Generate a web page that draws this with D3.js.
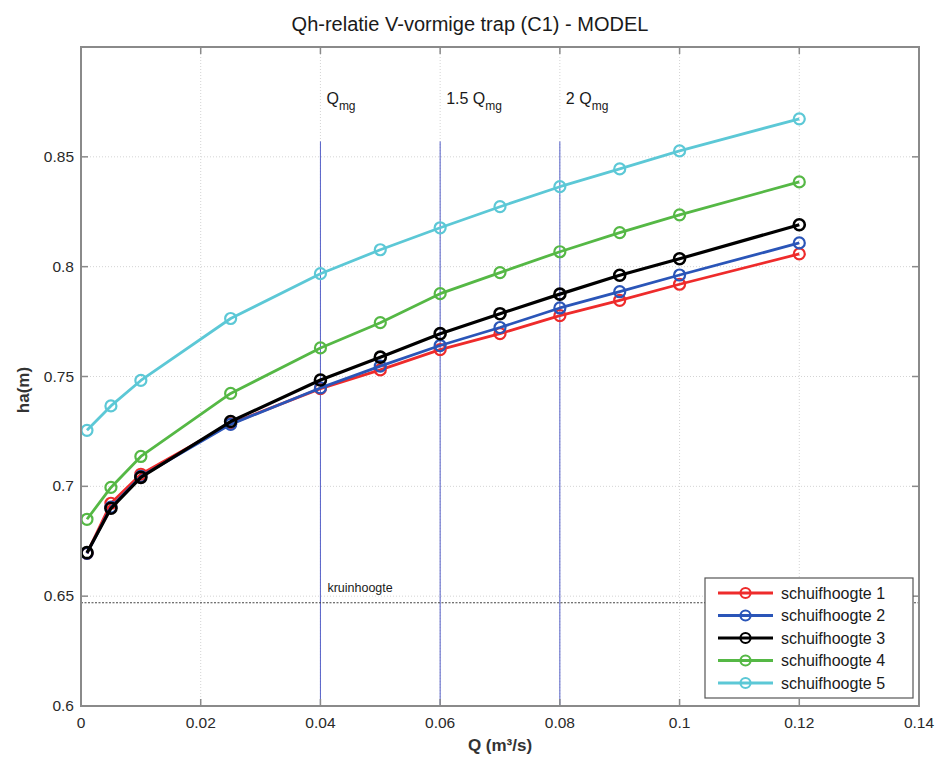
<!DOCTYPE html>
<html>
<head>
<meta charset="utf-8">
<script src="https://cdn.jsdelivr.net/npm/d3@7"></script>
<style>
  body { margin: 0; background: #fff; }
  svg { display: block; font-family: "Liberation Sans", Arial, sans-serif; }
</style>
</head>
<body>
<svg id="chart" width="941" height="762"></svg>
<script>
// Discharge values (m³/s) at which the water level was measured
const qValues = [0.001, 0.005, 0.01, 0.025, 0.04, 0.05, 0.06, 0.07, 0.08, 0.09, 0.1, 0.12];

// Upstream water level ha (m) per gate setting
const schuif1 = [0.6695, 0.6923, 0.7055, 0.7285, 0.7445, 0.7530, 0.7622, 0.7695, 0.7777, 0.7847, 0.7920, 0.8058];
const schuif2 = [0.6695, 0.6905, 0.7045, 0.7282, 0.7448, 0.7547, 0.7641, 0.7723, 0.7812, 0.7886, 0.7962, 0.8108];
const schuif3 = [0.6698, 0.6900, 0.7041, 0.7295, 0.7484, 0.7588, 0.7695, 0.7786, 0.7875, 0.7961, 0.8036, 0.8191];
const schuif4 = [0.6850, 0.6995, 0.7136, 0.7423, 0.7630, 0.7745, 0.7877, 0.7973, 0.8068, 0.8155, 0.8236, 0.8386];
const schuif5 = [0.7255, 0.7366, 0.7482, 0.7764, 0.7968, 0.8077, 0.8177, 0.8273, 0.8364, 0.8445, 0.8527, 0.8673];

const seriesNames = ["schuifhoogte 1", "schuifhoogte 2", "schuifhoogte 3", "schuifhoogte 4", "schuifhoogte 5"];
const seriesValues = [schuif1, schuif2, schuif3, schuif4, schuif5];
const seriesColors = ["#ee2b2b", "#2a55b8", "#000000", "#55b845", "#5cc8d6"];

// Axis ticks
const xTicks = [0, 0.02, 0.04, 0.06, 0.08, 0.1, 0.12, 0.14];
const xTickLabels = ["0", "0.02", "0.04", "0.06", "0.08", "0.1", "0.12", "0.14"];
const yTicks = [0.6, 0.65, 0.7, 0.75, 0.8, 0.85];
const yTickLabels = ["0.6", "0.65", "0.7", "0.75", "0.8", "0.85"];

// Reference discharges and crest height
const refQ = [0.04, 0.06, 0.08];
const refPrefix = ["Q", "1.5 Q", "2 Q"];
const refTop = 0.857;
const kruinhoogte = 0.647;

const svg = d3.select("#chart");
const margin = { left: 81, right: 22, top: 47, bottom: 56 };
const W = 941, H = 762;

const x = d3.scaleLinear().domain([0, 0.14]).range([margin.left, W - margin.right]);
const y = d3.scaleLinear().domain([0.6, 0.9]).range([H - margin.bottom, margin.top]);

const x0 = x.range()[0], x1 = x.range()[1];
const y0 = y.range()[0], y1 = y.range()[1];

// Grid
const grid = svg.append("g");
grid.selectAll(".gx").data(xTicks.slice(1, -1)).join("line")
  .attr("x1", d => x(d)).attr("x2", d => x(d))
  .attr("y1", y0).attr("y2", y1)
  .attr("stroke", "#d4d4d4").attr("stroke-width", 1).attr("stroke-dasharray", "1,2");
grid.selectAll(".gy").data(yTicks.slice(1)).join("line")
  .attr("x1", x0).attr("x2", x1)
  .attr("y1", d => y(d)).attr("y2", d => y(d))
  .attr("stroke", "#d4d4d4").attr("stroke-width", 1).attr("stroke-dasharray", "1,2");

// Reference discharge lines
svg.append("g").selectAll("line").data(refQ).join("line")
  .attr("x1", d => x(d)).attr("x2", d => x(d))
  .attr("y1", y(0.6)).attr("y2", y(refTop))
  .attr("stroke", "#5560c8").attr("stroke-width", 1);

const refLabels = svg.append("g").selectAll("text").data(refQ).join("text")
  .attr("x", d => x(d) + 6).attr("y", 104)
  .attr("font-size", 16).attr("fill", "#1a1a1a");
refLabels.append("tspan").text((d, i) => refPrefix[i]);
refLabels.append("tspan").attr("dy", 6).attr("font-size", 12).text("mg");

// Crest height
svg.append("line")
  .attr("x1", x0).attr("x2", x1)
  .attr("y1", y(kruinhoogte)).attr("y2", y(kruinhoogte))
  .attr("stroke", "#444").attr("stroke-width", 1).attr("stroke-dasharray", "2,1.5");
svg.append("text").attr("x", x(0.04) + 7).attr("y", y(kruinhoogte) - 11)
  .attr("font-size", 12.5).attr("fill", "#1a1a1a").text("kruinhoogte");

// Series
const line = d3.line().x((d, i) => x(qValues[i])).y(d => y(d));
const seriesG = svg.append("g").selectAll("g").data(seriesValues).join("g");
seriesG.append("path")
  .attr("d", d => line(d))
  .attr("fill", "none")
  .attr("stroke", (d, i) => seriesColors[i])
  .attr("stroke-width", (d, i) => i === 2 ? 3.2 : 2.8)
  .attr("stroke-linejoin", "round");
seriesG.each(function(vals, i) {
  d3.select(this).selectAll("circle").data(vals).join("circle")
    .attr("cx", (d, j) => x(qValues[j])).attr("cy", d => y(d))
    .attr("r", 5.5).attr("fill", "none")
    .attr("stroke", seriesColors[i]).attr("stroke-width", i === 2 ? 2.6 : 2.2);
});

// Axes box and ticks
const axisColor = "#8a8a8a";
svg.append("rect").attr("x", x0).attr("y", y1).attr("width", x1 - x0).attr("height", y0 - y1)
  .attr("fill", "none").attr("stroke", axisColor).attr("stroke-width", 2);

const ticksG = svg.append("g").attr("stroke", axisColor).attr("stroke-width", 1.5);
xTicks.forEach(t => {
  ticksG.append("line").attr("x1", x(t)).attr("x2", x(t)).attr("y1", y0).attr("y2", y0 - 7);
  ticksG.append("line").attr("x1", x(t)).attr("x2", x(t)).attr("y1", y1).attr("y2", y1 + 7);
});
yTicks.forEach(t => {
  ticksG.append("line").attr("x1", x0).attr("x2", x0 + 7).attr("y1", y(t)).attr("y2", y(t));
  ticksG.append("line").attr("x1", x1).attr("x2", x1 - 7).attr("y1", y(t)).attr("y2", y(t));
});

// Tick labels
svg.append("g").selectAll("text").data(xTicks).join("text")
  .attr("x", d => x(d)).attr("y", y0 + 22)
  .attr("text-anchor", "middle").attr("font-size", 15.5).attr("fill", "#2a2a2a")
  .text((d, i) => xTickLabels[i]);
svg.append("g").selectAll("text").data(yTicks).join("text")
  .attr("x", x0 - 7).attr("y", d => y(d) + 5)
  .attr("text-anchor", "end").attr("font-size", 15.5).attr("fill", "#2a2a2a")
  .text((d, i) => yTickLabels[i]);

// Title and axis labels
svg.append("text").attr("x", 470).attr("y", 31).attr("text-anchor", "middle")
  .attr("font-size", 20).attr("fill", "#1a1a1a")
  .text("Qh-relatie V-vormige trap (C1) - MODEL");
svg.append("text").attr("x", 500).attr("y", 751).attr("text-anchor", "middle")
  .attr("font-size", 17).attr("font-weight", "bold").attr("fill", "#333")
  .text("Q (m³/s)");
svg.append("text").attr("transform", "translate(29,390) rotate(-90)").attr("text-anchor", "middle")
  .attr("font-size", 17).attr("font-weight", "bold").attr("fill", "#333")
  .text("ha(m)");

// Legend
const lg = svg.append("g").attr("transform", "translate(705,578)");
lg.append("rect").attr("width", 208).attr("height", 120)
  .attr("fill", "#fff").attr("stroke", "#555").attr("stroke-width", 1.2);
seriesNames.forEach((name, i) => {
  const ry = 15 + i * 22.5;
  lg.append("line").attr("x1", 13).attr("x2", 68).attr("y1", ry).attr("y2", ry)
    .attr("stroke", seriesColors[i]).attr("stroke-width", i === 2 ? 3.2 : 2.8);
  lg.append("circle").attr("cx", 40.5).attr("cy", ry).attr("r", 5)
    .attr("fill", "none").attr("stroke", seriesColors[i]).attr("stroke-width", 2.2);
  lg.append("text").attr("x", 76).attr("y", ry + 5.5)
    .attr("font-size", 16).attr("fill", "#1a1a1a").text(name);
});
</script>
</body>
</html>
